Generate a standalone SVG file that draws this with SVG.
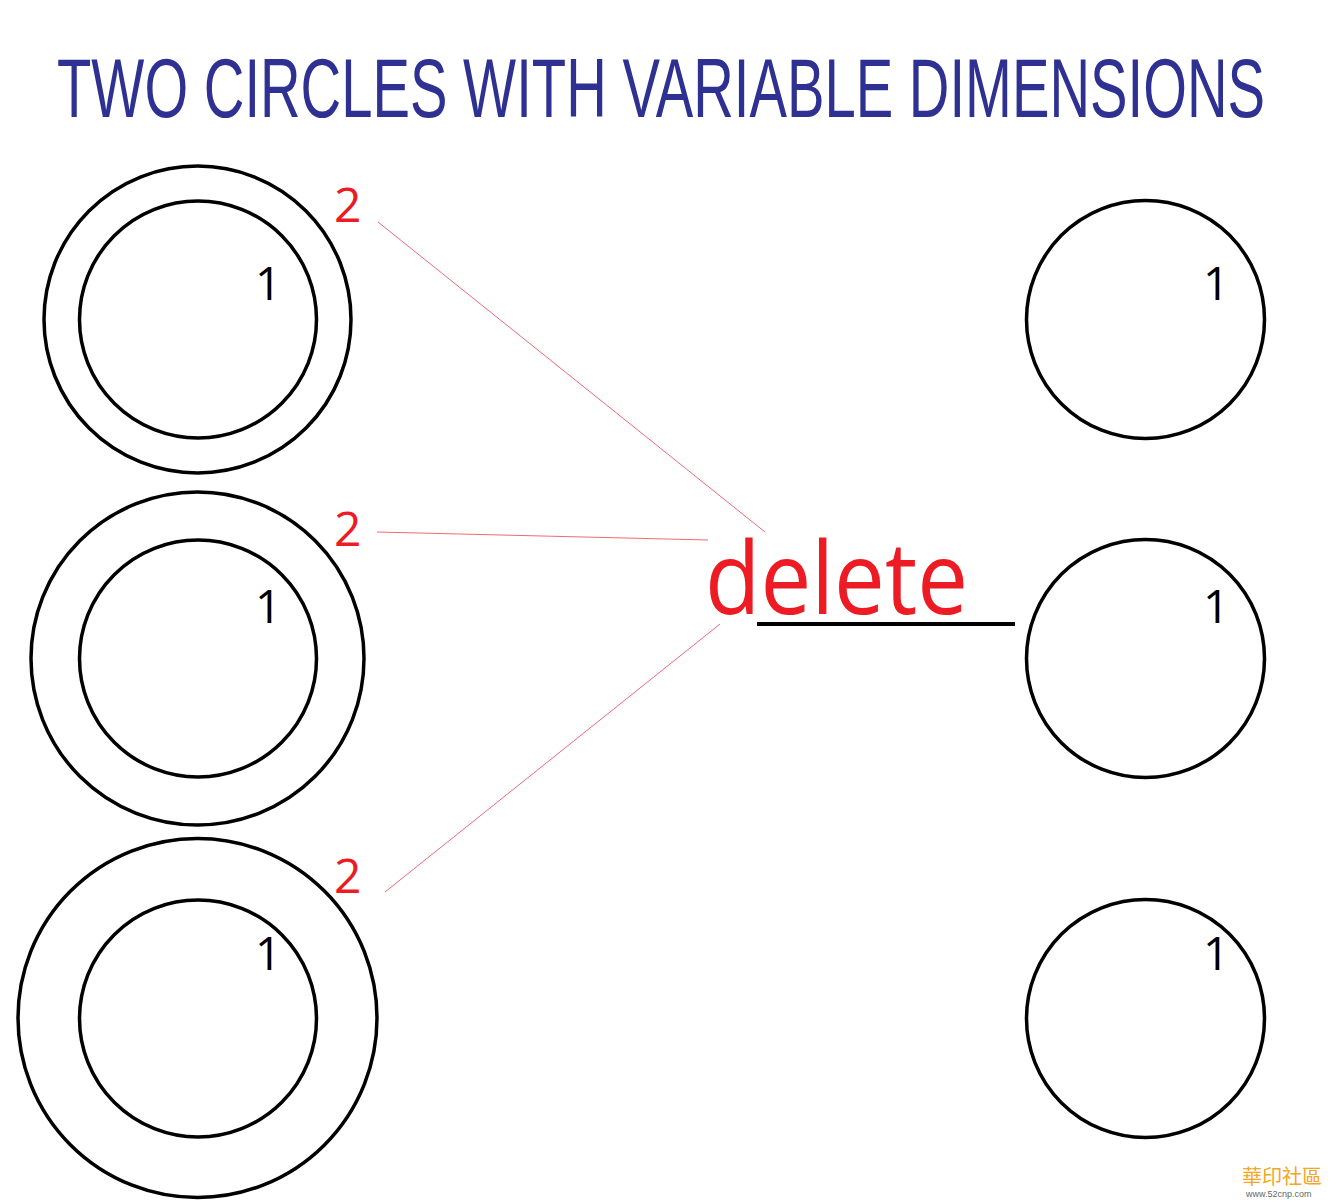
<svg xmlns="http://www.w3.org/2000/svg" width="1332" height="1202" viewBox="0 0 1332 1202">
<style>
.c{fill:none;stroke:#000;stroke-width:3.5}
.one{font-family:"Open Sans","Liberation Sans",sans-serif;font-size:46px;fill:#000}
.two{font-family:"Open Sans","Liberation Sans",sans-serif;font-size:48px;fill:#ed1c24}
.lead{stroke:#f06a70;stroke-width:1;fill:none}
</style>
<rect width="1332" height="1202" fill="#fff"/>
<text id="title" x="57" y="117" font-family="'Liberation Sans Narrow','Liberation Sans',sans-serif" font-size="84" fill="#2e3192" textLength="1208" lengthAdjust="spacingAndGlyphs">TWO CIRCLES WITH VARIABLE DIMENSIONS</text>
<g id="left1">
<circle class="c" cx="197.5" cy="319.5" r="153.5"/>
<circle class="c" cx="198" cy="319.5" r="118.5"/>
<text class="one" x="255" y="300">1</text>
<text class="two" x="334" y="222">2</text>
</g>
<g id="left2">
<circle class="c" cx="197.5" cy="658.5" r="166.5"/>
<circle class="c" cx="198" cy="658.5" r="118.5"/>
<text class="one" x="255" y="623">1</text>
<text class="two" x="334" y="546">2</text>
</g>
<g id="left3">
<circle class="c" cx="197.5" cy="1018" r="179.5"/>
<circle class="c" cx="198" cy="1018.5" r="118.5"/>
<text class="one" x="255" y="970">1</text>
<text class="two" x="334" y="893">2</text>
</g>
<g id="right1">
<circle class="c" cx="1145.5" cy="319.5" r="119"/>
<text class="one" x="1203" y="300">1</text>
</g>
<g id="right2">
<circle class="c" cx="1145.5" cy="658.5" r="119"/>
<text class="one" x="1203" y="623">1</text>
</g>
<g id="right3">
<circle class="c" cx="1145.5" cy="1018.5" r="119"/>
<text class="one" x="1203" y="970">1</text>
</g>
<g id="delete">
<text x="705" y="614" font-family="'Open Sans','Liberation Sans',sans-serif" font-size="100" fill="#ed1c24" textLength="263" lengthAdjust="spacingAndGlyphs">delete</text>
</g>
<g id="connectors">
<line class="lead" x1="378" y1="222" x2="765" y2="532"/>
<line class="lead" x1="377" y1="532" x2="708" y2="540"/>
<line class="lead" x1="385" y1="892" x2="720" y2="624"/>
<line x1="757" y1="624" x2="1015" y2="624" stroke="#000" stroke-width="4"/>
</g>
<g id="watermark">
<text x="1242" y="1184" font-family="'Noto Sans CJK TC',sans-serif" font-size="20" fill="#f5a623">華印社區</text>
<text x="1246" y="1197" font-family="'Liberation Sans',sans-serif" font-size="9" fill="#666">www.52cnp.com</text>
</g>
</svg>
